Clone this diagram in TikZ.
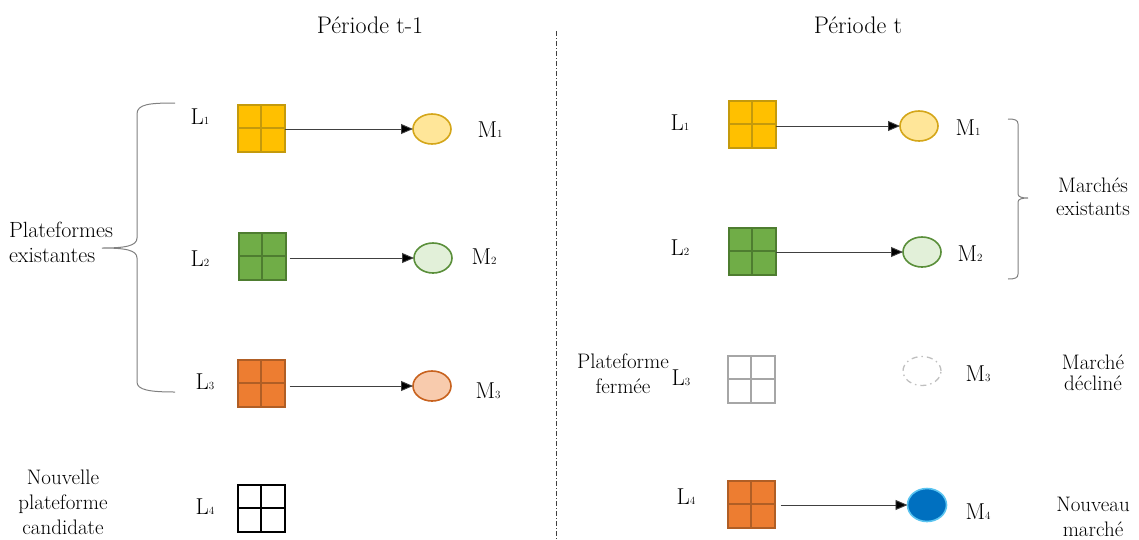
\documentclass[tikz,border=0pt]{standalone}
\usepackage{fontspec}
\usetikzlibrary{shapes.geometric,arrows.meta}
\newcommand{\mysub}[1]{{\fontsize{11}{11}\selectfont #1}}
\definecolor{yelF}{HTML}{FFC000}\definecolor{yelD}{HTML}{C49A0C}
\definecolor{yelL}{HTML}{FFE699}\definecolor{yelB}{HTML}{D4A619}
\definecolor{grnF}{HTML}{70AD47}\definecolor{grnD}{HTML}{4E7D30}
\definecolor{grnL}{HTML}{E2F0D9}\definecolor{grnB}{HTML}{5A8F3A}
\definecolor{orgF}{HTML}{ED7D31}\definecolor{orgD}{HTML}{B05E25}
\definecolor{orgL}{HTML}{F8CBAD}\definecolor{orgB}{HTML}{C8621E}
\definecolor{gryD}{HTML}{A6A6A6}\definecolor{gryL}{HTML}{BFBFBF}
\definecolor{bluF}{HTML}{0070C0}\definecolor{bluB}{HTML}{5BC4F0}
\definecolor{lineC}{HTML}{404040}
\begin{document}
\begin{tikzpicture}[x=1pt,y=-1pt,
  sq/.style 2 args={draw=#2, fill=#1, line width=2pt, minimum size=47pt, inner sep=0pt, outer sep=0pt,
    path picture={\draw[#2, line width=2.5pt]
      (path picture bounding box.north) -- (path picture bounding box.south)
      (path picture bounding box.west) -- (path picture bounding box.east);}},
  mk/.style 2 args={ellipse, draw=#2, fill=#1, line width=1.6pt, minimum width=38pt, minimum height=30pt, inner sep=0pt, outer sep=0pt},
  lbl/.style={font=\fontsize{23}{26}\selectfont, inner sep=0pt},
  txt/.style={font=\fontsize{21}{25}\selectfont, align=center, inner sep=0pt},
  ttl/.style={font=\fontsize{24}{28}\selectfont, inner sep=0pt},
  arr/.style={draw=lineC, line width=0.9pt, -{Triangle[length=12pt,width=10pt,fill=black]}},
  brc/.style={draw=gray, line width=1pt}
]
\useasboundingbox (0,0) rectangle (1139,539);

% titles
\node[ttl] (T1) at (370,25) {Période t-1};
\node[ttl] (T2) at (858,25) {Période t};

% divider
\coordinate (dTop) at (556,31);
\coordinate (dBot) at (556,539);
\draw[lineC, line width=0.7pt, dash pattern=on 5pt off 2pt on 1pt off 2pt] (dTop) -- (dBot);

% ---- Left: period t-1
\node[sq={yelF}{yelD}] (A1) at (261,128) {};
\node[sq={grnF}{grnD}] (A2) at (262,256) {};
\node[sq={orgF}{orgD}] (A3) at (261,383) {};
\node[sq={white}{black}] (A4) at (261,508) {};

\node[mk={yelL}{yelB}] (B1) at (432,129) {};
\node[mk={grnL}{grnB}] (B2) at (433,258) {};
\node[mk={orgL}{orgB}] (B3) at (432,386) {};

\draw[arr] (A1.east |- B1.west) -- (B1.west);
\draw[arr] ([xshift=4pt]A2.east |- B2.west) -- (B2.west);
\draw[arr] ([xshift=5pt]A3.east |- B3.west) -- (B3.west);

\node[lbl] (la1) at (200,117) {L\mysub{1}};
\node[lbl] (la2) at (200,259) {L\mysub{2}};
\node[lbl] (la3) at (205,382) {L\mysub{3}};
\node[lbl] (la4) at (205,507) {L\mysub{4}};
\node[lbl] (ma1) at (490,130) {M\mysub{1}};
\node[lbl] (ma2) at (484,257) {M\mysub{2}};
\node[lbl] (ma3) at (488,391) {M\mysub{3}};

\node[txt, align=left, font=\fontsize{22}{25}\selectfont] (pe) at (61,242) {Plateformes\\existantes};
\node[txt] (npc) at (63,502) {Nouvelle\\plateforme\\candidate};

% left brace
\coordinate (lb1) at (175,103);
\coordinate (lb2) at (137,114);
\coordinate (lb3) at (137,238);
\coordinate (lbt) at (102,248);
\coordinate (lb4) at (137,258);
\coordinate (lb5) at (137,382);
\coordinate (lb6) at (175,392);
\draw[brc] (lb1) .. controls (150,103) and (137,104) .. (lb2) -- (lb3)
  .. controls (137,246) and (125,248) .. (lbt)
  .. controls (125,248) and (137,250) .. (lb4) -- (lb5)
  .. controls (137,390) and (150,392) .. (lb6);

% ---- Right: period t
\node[sq={yelF}{yelD}] (C1) at (752,124) {};
\node[sq={grnF}{grnD}] (C2) at (752,251) {};
\node[sq={white}{gryD}] (C3) at (751,379) {};
\node[sq={orgF}{orgD}] (C4) at (751,504) {};

\node[mk={yelL}{yelB}] (D1) at (919,126) {};
\node[mk={grnL}{grnB}] (D2) at (922,252) {};
\node[ellipse, draw=gryL, line width=1.3pt, dash pattern=on 6pt off 4pt on 1.5pt off 4pt, minimum width=38pt, minimum height=29pt, inner sep=0pt, outer sep=0pt] (D3) at (922,371) {};
\node[mk={bluF}{bluB}, minimum width=39pt, minimum height=33pt] (D4) at (927,505) {};

\draw[arr] (C1.east |- D1.west) -- (D1.west);
\draw[arr] (C2.east |- D2.west) -- (D2.west);
\draw[arr] ([xshift=6pt]C4.east |- D4.west) -- (D4.west);

\node[lbl] (lc1) at (680,123) {L\mysub{1}};
\node[lbl] (lc2) at (680,248) {L\mysub{2}};
\node[lbl] (lc3) at (681,378) {L\mysub{3}};
\node[lbl] (lc4) at (686,497) {L\mysub{4}};
\node[lbl] (mc1) at (968,128) {M\mysub{1}};
\node[lbl] (mc2) at (970,254) {M\mysub{2}};
\node[lbl] (mc3) at (978,374) {M\mysub{3}};
\node[lbl] (mc4) at (978,512) {M\mysub{4}};

\node[txt, font=\fontsize{21}{23}\selectfont] (me) at (1093,197) {Marchés\\existants};
\node[txt] (pf) at (623,374) {Plateforme\\fermée};
\node[txt, font=\fontsize{21}{21}\selectfont] (md) at (1093,373) {Marché\\décliné};
\node[txt] (nm) at (1093,517) {Nouveau\\marché};

% right brace
\coordinate (rb1) at (1008,119);
\coordinate (rb2) at (1018,124);
\coordinate (rb3) at (1018,194);
\coordinate (rbt) at (1028,198);
\coordinate (rb4) at (1018,202);
\coordinate (rb5) at (1018,274);
\coordinate (rb6) at (1008,279);
\draw[brc] (rb1) .. controls (1015,119) and (1018,120) .. (rb2) -- (rb3)
  .. controls (1018,197) and (1022,198) .. (rbt)
  .. controls (1022,198) and (1018,199) .. (rb4) -- (rb5)
  .. controls (1018,278) and (1015,279) .. (rb6);
\end{tikzpicture}
\end{document}
